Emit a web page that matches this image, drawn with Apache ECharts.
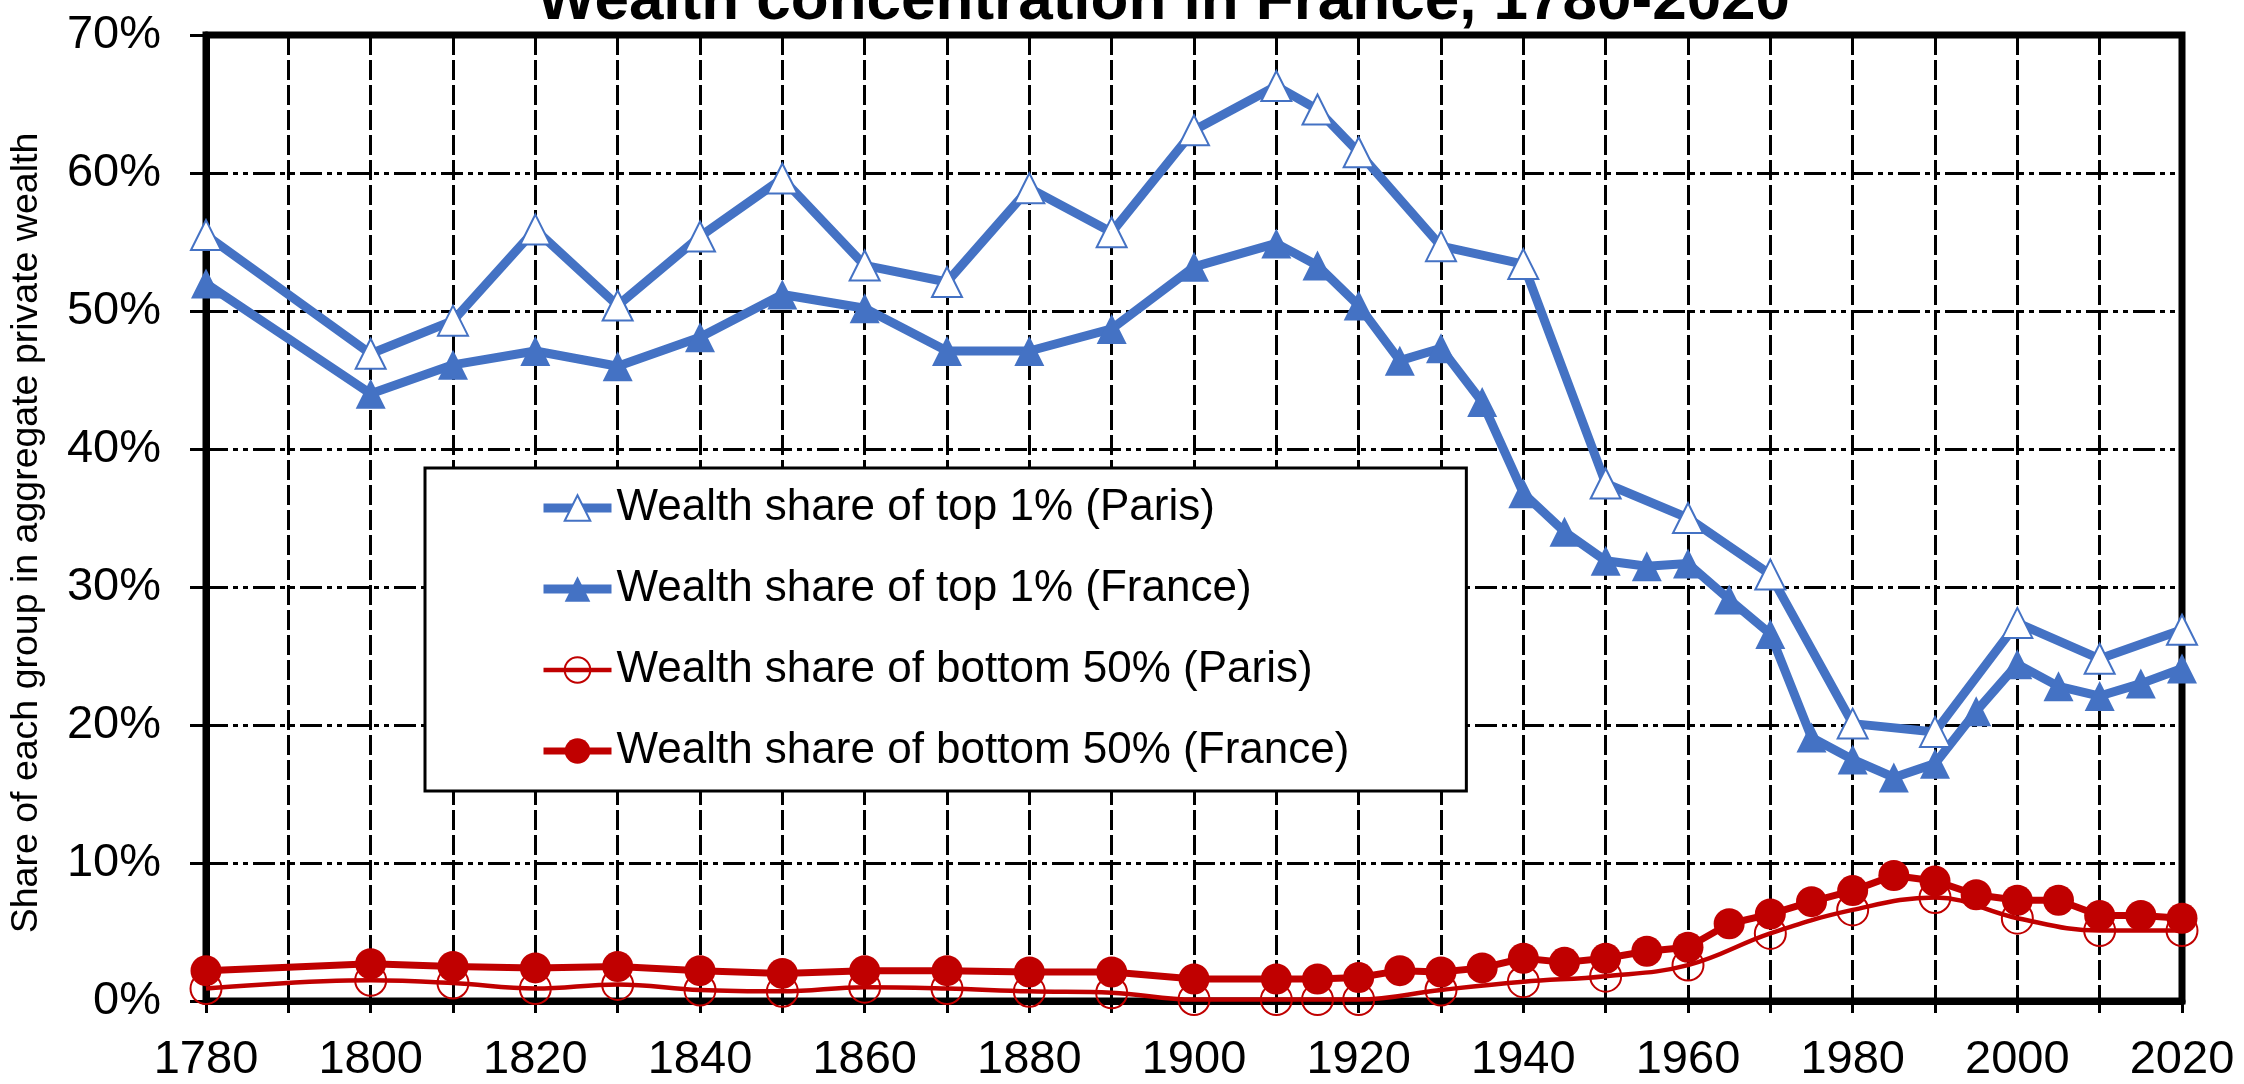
<!DOCTYPE html>
<html><head><meta charset="utf-8">
<script src="https://cdn.jsdelivr.net/npm/echarts@6/dist/echarts.min.js"></script>
<style>html,body{margin:0;padding:0;background:#fff}#c{width:2244px;height:1084px}</style>
</head><body><div id="c"></div>
<script>
const titleText = 'Wealth concentration in France, 1780-2020';
const yAxisTitle = 'Share of each group in aggregate private wealth';
const seriesNames = [
  'Wealth share of top 1% (Paris)',
  'Wealth share of top 1% (France)',
  'Wealth share of bottom 50% (Paris)',
  'Wealth share of bottom 50% (France)'
];
const parisYears = [1780,1800,1810,1820,1830,1840,1850,1860,1870,1880,1890,1900,1910,1915,1920,1930,1940,1950,1960,1970,1980,1990,2000,2010,2020];
const franceYears = [1780,1800,1810,1820,1830,1840,1850,1860,1870,1880,1890,1900,1910,1915,1920,1925,1930,1935,1940,1945,1950,1955,1960,1965,1970,1975,1980,1985,1990,1995,2000,2005,2010,2015,2020];
const top1Paris = [55.5,46.9,49.3,55.9,50.4,55.4,59.6,53.3,52.1,58.9,55.7,63.1,66.3,64.6,61.5,54.7,53.4,37.5,35.0,30.9,20.1,19.5,27.4,24.8,26.9];
const top1France = [52.0,44.0,46.1,47.1,46.0,48.1,51.2,50.2,47.1,47.1,48.7,53.2,54.9,53.3,50.4,46.4,47.3,43.4,36.8,34.0,31.9,31.5,31.7,29.1,26.6,19.1,17.5,16.2,17.2,21.0,24.4,22.8,22.1,23.0,24.1];
const bottom50Paris = [0.9,1.5,1.3,0.9,1.2,0.8,0.7,1.0,0.9,0.7,0.6,0.1,0.1,0.1,0.1,0.8,1.4,1.8,2.6,4.9,6.6,7.5,6.0,5.1,5.1];
const bottom50France = [2.2,2.7,2.5,2.4,2.5,2.2,2.0,2.2,2.2,2.1,2.1,1.6,1.6,1.6,1.7,2.2,2.1,2.4,3.1,2.8,3.1,3.6,3.9,5.6,6.3,7.2,8.0,9.1,8.7,7.7,7.3,7.3,6.2,6.2,6.0];
const xMin = 1780, xMax = 2020, xStep = 10, xLabelStep = 20;
const yMin = 0, yMax = 70, yStep = 10;

const BLUE = '#4472C4', RED = '#C00000';
const FONT = 'Liberation Sans, Arial, sans-serif';
const pairs = (xs, ys) => xs.map((x, i) => [x, ys[i]]);

const chart = echarts.init(document.getElementById('c'), null, {renderer: 'canvas'});
chart.setOption({
  animation: false,
  backgroundColor: '#fff',
  title: {
    text: titleText, left: 537, top: -29, padding: 0,
    textStyle: {fontFamily: FONT, fontSize: 62, fontWeight: 'bold', color: '#000'}
  },
  grid: {left: 206, right: 62, top: 35, bottom: 83, show: true, borderColor: '#000', borderWidth: 7, backgroundColor: 'transparent'},
  legend: {
    orient: 'vertical', left: 425, top: 468,
    padding: [18, 117, 18, 114],
    itemGap: 37, itemWidth: 68, itemHeight: 32,
    borderColor: '#000', borderWidth: 3, backgroundColor: '#fff',
    textStyle: {fontFamily: FONT, fontSize: 44, color: '#000', lineHeight: 44},
    lineStyle: {width: 'inherit'},
    data: seriesNames
  },
  xAxis: {
    type: 'value', min: xMin, max: xMax, interval: xStep,
    axisLine: {show: true, lineStyle: {color: '#000', width: 7}},
    axisTick: {show: true, length: 12, lineStyle: {color: '#000', width: 3}},
    axisLabel: {
      margin: 36, fontFamily: FONT, fontSize: 47, color: '#000',
      formatter: v => ((v - xMin) % xLabelStep === 0 ? String(v) : '')
    },
    splitLine: {show: true, lineStyle: {color: '#000', width: 3, type: [20, 5]}}
  },
  yAxis: {
    type: 'value', min: yMin, max: yMax, interval: yStep,
    name: yAxisTitle, nameLocation: 'middle', nameGap: 160,
    nameTextStyle: {fontFamily: FONT, fontSize: 37.5, color: '#000', padding: [0, 30, 0, 0]},
    axisLine: {show: true, lineStyle: {color: '#000', width: 7}},
    axisTick: {show: true, length: 16, lineStyle: {color: '#000', width: 3}},
    axisLabel: {margin: 45, fontFamily: FONT, fontSize: 47, color: '#000', formatter: '{value}%'},
    splitLine: {show: true, lineStyle: {color: '#000', width: 3, type: [22, 5, 5, 5, 5, 5]}}
  },
  series: [
    {
      name: seriesNames[0], type: 'line', clip: false,
      data: pairs(parisYears, top1Paris),
      symbol: 'triangle', symbolSize: 30,
      lineStyle: {color: BLUE, width: 9},
      itemStyle: {color: '#fff', borderColor: BLUE, borderWidth: 2}
    },
    {
      name: seriesNames[1], type: 'line', clip: false,
      data: pairs(franceYears, top1France),
      symbol: 'triangle', symbolSize: 30,
      lineStyle: {color: BLUE, width: 9},
      itemStyle: {color: BLUE}
    },
    {
      name: seriesNames[2], type: 'line', clip: false, smooth: 0.4,
      data: pairs(parisYears, bottom50Paris),
      symbol: 'circle', symbolSize: 31,
      lineStyle: {color: RED, width: 4.5},
      itemStyle: {color: 'rgba(255,255,255,0)', borderColor: RED, borderWidth: 2}
    },
    {
      name: seriesNames[3], type: 'line', clip: false,
      data: pairs(franceYears, bottom50France),
      symbol: 'circle', symbolSize: 31,
      lineStyle: {color: RED, width: 7},
      itemStyle: {color: RED}
    }
  ]
});
</script>
</body></html>
